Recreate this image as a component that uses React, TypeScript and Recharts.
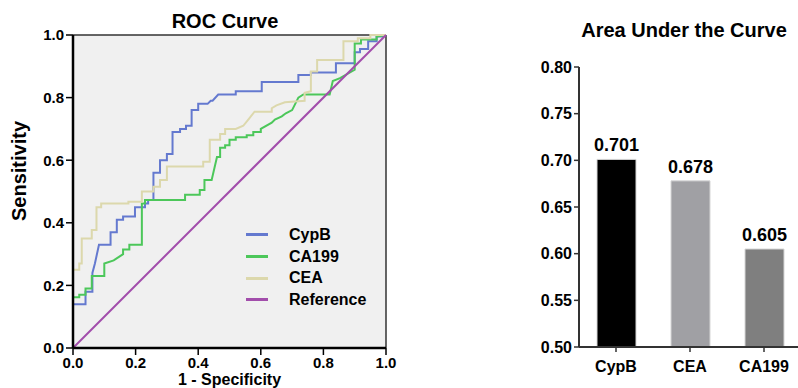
import {
  LineChart,
  Line,
  XAxis,
  YAxis,
  CartesianGrid,
  ReferenceLine,
  Legend,
  Label,
  BarChart,
  Bar,
  Cell,
  LabelList,
} from 'recharts'

const FONT = '"Liberation Sans", Arial, Helvetica, sans-serif'

// ROC curves: 1 - specificity (x) and sensitivity (y)
const cypbFpr = [0, 0, 0.04, 0.04, 0.062, 0.062, 0.07, 0.083, 0.12, 0.12, 0.14, 0.14, 0.16, 0.16, 0.198, 0.198, 0.23, 0.23, 0.24, 0.24, 0.257, 0.257, 0.278, 0.278, 0.3, 0.3, 0.318, 0.318, 0.342, 0.342, 0.361, 0.361, 0.379, 0.379, 0.4, 0.4, 0.43, 0.44, 0.446, 0.464, 0.52, 0.52, 0.603, 0.603, 0.72, 0.72, 0.76, 0.76, 0.84, 0.84, 0.9, 0.9, 0.917, 0.917, 0.943, 0.943, 0.97, 0.97, 0.99, 1]
const cypbTpr = [0, 0.14, 0.14, 0.18, 0.18, 0.24, 0.27, 0.33, 0.33, 0.37, 0.37, 0.41, 0.41, 0.42, 0.42, 0.45, 0.45, 0.462, 0.462, 0.473, 0.473, 0.56, 0.56, 0.6, 0.6, 0.62, 0.62, 0.69, 0.69, 0.7, 0.7, 0.71, 0.71, 0.76, 0.76, 0.78, 0.78, 0.79, 0.79, 0.81, 0.81, 0.82, 0.82, 0.85, 0.85, 0.872, 0.872, 0.88, 0.88, 0.91, 0.91, 0.945, 0.945, 0.955, 0.955, 0.98, 0.98, 0.995, 0.995, 1]

const ca199Fpr = [0, 0, 0.02, 0.02, 0.04, 0.04, 0.06, 0.06, 0.1, 0.1, 0.13, 0.16, 0.16, 0.18, 0.18, 0.22, 0.22, 0.23, 0.23, 0.358, 0.358, 0.405, 0.405, 0.42, 0.42, 0.443, 0.46, 0.47, 0.47, 0.486, 0.486, 0.5, 0.5, 0.52, 0.52, 0.555, 0.555, 0.576, 0.576, 0.6, 0.6, 0.635, 0.645, 0.667, 0.68, 0.7, 0.71, 0.72, 0.736, 0.82, 0.83, 0.853, 0.9, 0.9, 0.92, 0.92, 0.97, 0.97, 1]
const ca199Tpr = [0, 0.162, 0.162, 0.17, 0.17, 0.19, 0.19, 0.23, 0.23, 0.27, 0.28, 0.3, 0.315, 0.315, 0.33, 0.33, 0.462, 0.462, 0.473, 0.473, 0.49, 0.49, 0.505, 0.505, 0.537, 0.537, 0.61, 0.61, 0.64, 0.64, 0.648, 0.648, 0.665, 0.665, 0.673, 0.673, 0.68, 0.68, 0.69, 0.69, 0.7, 0.72, 0.73, 0.74, 0.75, 0.76, 0.78, 0.8, 0.81, 0.81, 0.853, 0.862, 0.889, 0.973, 0.973, 0.986, 0.986, 0.995, 1]

const ceaFpr = [0, 0, 0.02, 0.02, 0.028, 0.028, 0.06, 0.06, 0.075, 0.075, 0.09, 0.09, 0.177, 0.177, 0.22, 0.22, 0.257, 0.257, 0.278, 0.278, 0.3, 0.3, 0.416, 0.416, 0.437, 0.437, 0.47, 0.47, 0.486, 0.486, 0.52, 0.544, 0.56, 0.58, 0.635, 0.635, 0.65, 0.677, 0.74, 0.74, 0.76, 0.76, 0.78, 0.78, 0.864, 0.864, 0.91, 0.91, 0.95, 0.95, 1]
const ceaTpr = [0, 0.25, 0.25, 0.27, 0.27, 0.35, 0.35, 0.377, 0.377, 0.45, 0.45, 0.462, 0.462, 0.467, 0.467, 0.5, 0.5, 0.515, 0.515, 0.537, 0.537, 0.58, 0.58, 0.595, 0.595, 0.665, 0.665, 0.684, 0.684, 0.7, 0.7, 0.71, 0.73, 0.755, 0.755, 0.766, 0.775, 0.785, 0.79, 0.815, 0.82, 0.883, 0.883, 0.92, 0.92, 0.98, 0.98, 0.99, 0.99, 1, 1]

const refFpr = [0, 1]
const refTpr = [0, 1]

const rocTicks = [0, 0.2, 0.4, 0.6, 0.8, 1]

// AUC bar panel
const aucNames = ['CypB', 'CEA', 'CA199']
const aucValues = [0.701, 0.678, 0.605]
const aucTicks = [0.5, 0.55, 0.6, 0.65, 0.7, 0.75, 0.8]

const zip = (xs: number[], ys: number[]) => xs.map((x, i) => ({ x, y: ys[i] }))

const rocSeries = [
  { name: 'CypB', color: '#6479cf', data: zip(cypbFpr, cypbTpr) },
  { name: 'CA199', color: '#4cc75a', data: zip(ca199Fpr, ca199Tpr) },
  { name: 'CEA', color: '#dcd8ac', data: zip(ceaFpr, ceaTpr) },
  { name: 'Reference', color: '#a24dab', data: zip(refFpr, refTpr) },
]

const barColors = ['#000000', '#a0a0a4', '#7f7f7f']
const barData = aucNames.map((name, i) => ({ name, auc: aucValues[i] }))

const tickStyle = { fontFamily: FONT, fontWeight: 700, fontSize: 15, fill: '#000' }

function RocLegend() {
  return (
    <div style={{ fontFamily: FONT, fontWeight: 700, fontSize: 16, color: '#000' }}>
      {rocSeries.map((s) => (
        <div key={s.name} style={{ display: 'flex', alignItems: 'center', height: 21.7 }}>
          <span style={{ display: 'inline-block', width: 22, height: 3, background: s.color, marginRight: 21 }} />
          {s.name}
        </div>
      ))}
    </div>
  )
}

function RocChart() {
  return (
    <LineChart width={400} height={388} margin={{ top: 35, right: 14, bottom: 0, left: 0 }}>
      <CartesianGrid fill="#f0f0f0" stroke="none" horizontal={false} vertical={false} />
      <XAxis
        type="number"
        dataKey="x"
        domain={[0, 1]}
        ticks={rocTicks}
        interval={0}
        tickFormatter={(v: number) => v.toFixed(1)}
        height={40}
        tick={tickStyle}
        tickSize={7}
        tickMargin={2}
        axisLine={{ stroke: '#000', strokeWidth: 2.5 }}
        tickLine={{ stroke: '#000', strokeWidth: 1.5 }}
      >
        <Label
          content={() => (
            <text x={229.5} y={385} textAnchor="middle" fontFamily={FONT} fontWeight={700} fontSize={16} fill="#000">
              1 - Specificity
            </text>
          )}
        />
      </XAxis>
      <YAxis
        type="number"
        dataKey="y"
        domain={[0, 1]}
        ticks={rocTicks}
        interval={0}
        tickFormatter={(v: number) => v.toFixed(1)}
        width={73}
        tick={tickStyle}
        tickSize={7}
        tickMargin={2}
        axisLine={{ stroke: '#000', strokeWidth: 2.5 }}
        tickLine={{ stroke: '#000', strokeWidth: 1.5 }}
      >
        <Label
          content={() => (
            <text
              x={19}
              y={171}
              transform="rotate(-90 19 171)"
              textAnchor="middle"
              dominantBaseline="central"
              fontFamily={FONT}
              fontWeight={700}
              fontSize={20}
              fill="#000"
            >
              Sensitivity
            </text>
          )}
        />
      </YAxis>
      <ReferenceLine y={1} stroke="#333" strokeWidth={1.5} />
      <ReferenceLine x={1} stroke="#333" strokeWidth={1.5} />
      {rocSeries.map((s) => (
        <Line
          key={s.name}
          data={s.data}
          dataKey="y"
          name={s.name}
          type="linear"
          stroke={s.color}
          strokeWidth={2}
          dot={false}
          activeDot={false}
          isAnimationActive={false}
        />
      ))}
      <Legend
        layout="vertical"
        align="center"
        verticalAlign="middle"
        wrapperStyle={{ left: 246, top: 224, width: 140 }}
        content={() => <RocLegend />}
      />
    </LineChart>
  )
}

function AucChart() {
  return (
    <BarChart width={281} height={388} data={barData} margin={{ top: 67, right: 0, bottom: 0, left: 0 }}>
      <XAxis
        dataKey="name"
        height={41}
        tick={{ ...tickStyle, fontSize: 16 }}
        tickSize={5}
        tickMargin={9}
        axisLine={{ stroke: '#333', strokeWidth: 2 }}
        tickLine={{ stroke: '#333', strokeWidth: 1.5 }}
      />
      <YAxis
        type="number"
        domain={[0.5, 0.8]}
        ticks={aucTicks}
        interval={0}
        tickFormatter={(v: number) => v.toFixed(2)}
        width={59}
        tick={{ ...tickStyle, fontSize: 16 }}
        tickSize={5}
        tickMargin={2}
        axisLine={{ stroke: '#333', strokeWidth: 2 }}
        tickLine={{ stroke: '#333', strokeWidth: 1.5 }}
      />
      <Bar dataKey="auc" barSize={39} stroke="#d6d6d6" strokeWidth={1} isAnimationActive={false}>
        {barData.map((d, i) => (
          <Cell key={d.name} fill={barColors[i]} />
        ))}
        <LabelList
          dataKey="auc"
          position="top"
          offset={8}
          formatter={(v: number) => v.toFixed(3)}
          style={{ fontFamily: FONT, fontWeight: 700, fontSize: 18, fill: '#000' }}
        />
      </Bar>
    </BarChart>
  )
}

export default function App() {
  const titleStyle = {
    position: 'absolute' as const,
    fontFamily: FONT,
    fontWeight: 700,
    fontSize: 20,
    lineHeight: '20px',
    color: '#000',
    textAlign: 'center' as const,
    width: 300,
  }
  return (
    <div style={{ position: 'absolute', left: 0, top: 0, width: 798, height: 388, background: '#fff', overflow: 'hidden' }}>
      <div style={{ position: 'absolute', left: 0, top: 0 }}>
        <RocChart />
      </div>
      <div style={{ position: 'absolute', left: 520, top: 0 }}>
        <AucChart />
      </div>
      <div style={{ ...titleStyle, left: 225 - 150, top: 11 }}>ROC Curve</div>
      <div style={{ ...titleStyle, left: 684 - 150, top: 20 }}>Area Under the Curve</div>
    </div>
  )
}
